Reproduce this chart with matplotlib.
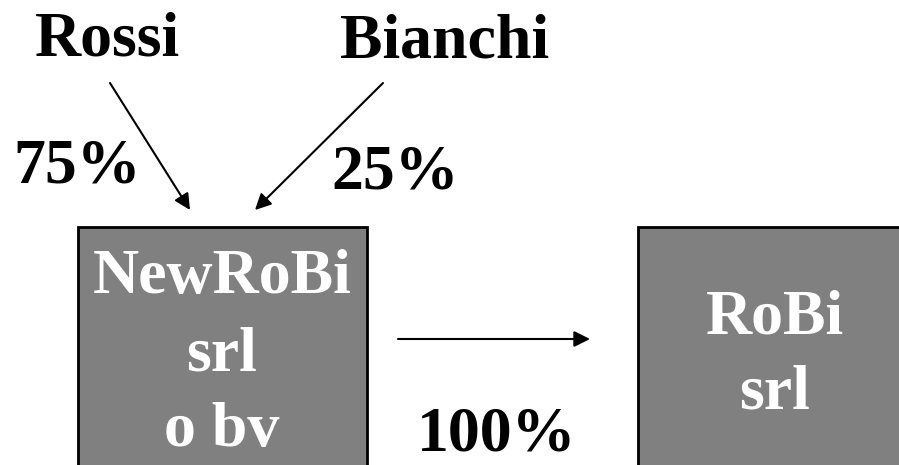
import matplotlib
matplotlib.use('Agg')
import matplotlib.pyplot as plt
from matplotlib.patches import Rectangle

owners = ['Rossi', 'Bianchi']
owner_shares = ['75%', '25%']
holding_lines = ['NewRoBi', 'srl', 'o bv']
target_lines = ['RoBi', 'srl']
holding_share = '100%'

fig = plt.figure(figsize=(8.99, 4.65), dpi=100)
ax = fig.add_axes([0, 0, 1, 1])
ax.set_xlim(0, 899)
ax.set_ylim(465, 0)
ax.set_axis_off()

font = dict(family='Liberation Serif', weight='bold', fontsize=46)

# boxes
ax.add_patch(Rectangle((78, 227), 289, 260, facecolor='#808080', edgecolor='black', lw=2))
ax.add_patch(Rectangle((638, 227), 280, 260, facecolor='#808080', edgecolor='black', lw=2))

# owners and shares
ax.text(107, 56, owners[0], ha='center', va='baseline', color='black', **font)
ax.text(445, 57, owners[1], ha='center', va='baseline', color='black', **font)
ax.text(77, 182, owner_shares[0], ha='center', va='baseline', color='black', **font)
ax.text(395, 188, owner_shares[1], ha='center', va='baseline', color='black', **font)

# arrows
arrow = dict(arrowstyle='-|>', color='black', lw=1.5, mutation_scale=24, shrinkA=0, shrinkB=0)
ax.annotate('', xy=(190, 210), xytext=(110, 83), arrowprops=arrow)
ax.annotate('', xy=(255, 210), xytext=(383, 83), arrowprops=arrow)
ax.annotate('', xy=(590, 339), xytext=(398, 339), arrowprops=arrow)

# box labels
for txt, y in zip(holding_lines, [293, 370, 446]):
    ax.text(222, y, txt, ha='center', va='baseline', color='white', **font)
for txt, y in zip(target_lines, [333, 408]):
    ax.text(775, y, txt, ha='center', va='baseline', color='white', **font)
ax.text(497, 450, holding_share, ha='center', va='baseline', color='black', **font)

fig.savefig('out.png', dpi=100)
